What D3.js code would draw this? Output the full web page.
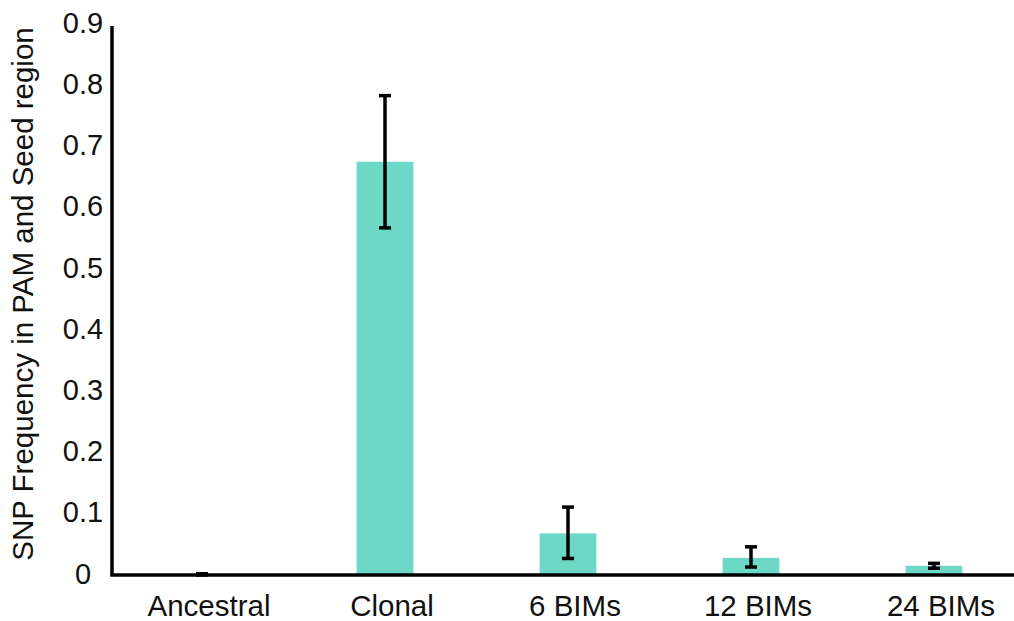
<!DOCTYPE html>
<html>
<head>
<meta charset="utf-8">
<script src="https://cdn.jsdelivr.net/npm/d3@7"></script>
<style>
  html, body { margin: 0; padding: 0; background: #ffffff; }
  svg { display: block; font-family: "Liberation Sans", Arial, sans-serif; }
</style>
</head>
<body>
<svg id="chart" width="1014" height="621"></svg>
<script>
// Mean SNP frequency per population with error bar bounds
const categories = ["Ancestral", "Clonal", "6 BIMs", "12 BIMs", "24 BIMs"];
const means     = [0.001, 0.675, 0.068, 0.028, 0.015];
const errLow    = [0.000, 0.567, 0.027, 0.013, 0.011];
const errHigh   = [0.002, 0.783, 0.111, 0.046, 0.019];
const yTicks    = [0, 0.1, 0.2, 0.3, 0.4, 0.5, 0.6, 0.7, 0.8, 0.9];
const yTickLabels = ["0", "0.1", "0.2", "0.3", "0.4", "0.5", "0.6", "0.7", "0.8", "0.9"];
const yTitle = "SNP Frequency in PAM and Seed region";

const W = 1014, H = 621;
const axisX = 112, axisBottom = 575, axisTop = 24;
const barColor = "#6dd8c6";

const svg = d3.select("#chart");

const x = d3.scaleBand()
  .domain(categories)
  .range([110.5, 1025.5])
  .paddingInner(0.69)
  .paddingOuter(0.345);

const y = d3.scaleLinear()
  .domain([0, 0.9])
  .range([axisBottom, axisTop]);

const rows = categories.map((c, i) => ({ c, m: means[i], lo: errLow[i], hi: errHigh[i] }));

// Bars
svg.append("g").selectAll("rect")
  .data(rows)
  .join("rect")
  .attr("x", d => x(d.c))
  .attr("y", d => y(d.m))
  .attr("width", x.bandwidth())
  .attr("height", d => y(0) - y(d.m))
  .attr("fill", barColor);

// Error bars
const capW = 12;
const eb = svg.append("g")
  .attr("stroke", "#000")
  .attr("stroke-width", 3.5)
  .attr("fill", "none");
const ebRows = eb.selectAll("g").data(rows).join("g")
  .attr("transform", d => `translate(${x(d.c) + x.bandwidth() / 2},0)`);
ebRows.append("line")
  .attr("x1", 0).attr("x2", 0)
  .attr("y1", d => y(d.hi)).attr("y2", d => y(d.lo));
ebRows.append("line")
  .attr("x1", -capW / 2).attr("x2", capW / 2)
  .attr("y1", d => y(d.hi)).attr("y2", d => y(d.hi));
ebRows.append("line")
  .attr("x1", -capW / 2).attr("x2", capW / 2)
  .attr("y1", d => y(d.lo)).attr("y2", d => y(d.lo));

// Y axis
const yAxis = svg.append("g")
  .attr("transform", `translate(${axisX},0)`)
  .call(d3.axisLeft(y)
    .tickValues(yTicks)
    .tickFormat((d, i) => yTickLabels[i])
    .tickSize(0)
    .tickSizeOuter(0));
yAxis.select(".domain")
  .attr("stroke", "#000")
  .attr("stroke-width", 3.5)
  .attr("d", `M0,${y(0.9) + 2}V${y(0)}`);
yAxis.selectAll(".tick text")
  .attr("x", -29)
  .attr("dy", "0.35em")
  .attr("y", -2)
  .attr("text-anchor", "middle")
  .attr("fill", "#111")
  .style("font-size", "29px")
  .style("font-family", "'Liberation Sans', Arial, sans-serif");

// X axis
const xAxis = svg.append("g")
  .attr("transform", `translate(0,${axisBottom})`)
  .call(d3.axisBottom(x).tickSize(0).tickSizeOuter(0));
xAxis.select(".domain")
  .attr("stroke", "#000")
  .attr("stroke-width", 3.5)
  .attr("d", `M${axisX - 1.75},0H${W}`);
xAxis.selectAll(".tick text")
  .attr("x", 7)
  .attr("y", 41)
  .attr("dy", "0")
  .attr("fill", "#111")
  .style("font-size", "29.5px")
  .style("font-family", "'Liberation Sans', Arial, sans-serif");

// Y axis title
svg.append("text")
  .attr("transform", "translate(33,294) rotate(-90)")
  .attr("text-anchor", "middle")
  .attr("fill", "#111")
  .style("font-size", "29.5px")
  .text(yTitle);
</script>
</body>
</html>
